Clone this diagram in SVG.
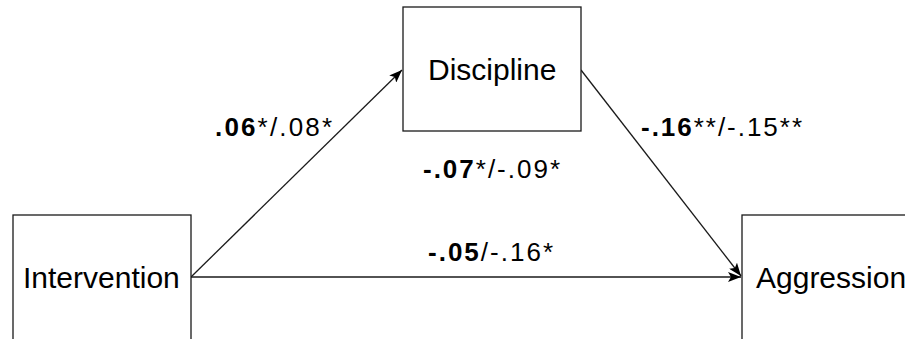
<svg xmlns="http://www.w3.org/2000/svg" width="905" height="339" viewBox="0 0 905 339">
  <style>
    .box { fill: #ffffff; stroke: #1a1a1a; stroke-width: 1.3; }
    .node-label { font-family: "Liberation Sans", Arial, sans-serif; font-size: 30px; fill: #000; }
    .edge { stroke: #1a1a1a; stroke-width: 1.3; fill: none; marker-end: url(#arrow); }
    .coef { font-family: "Liberation Sans", Arial, sans-serif; font-size: 26px; fill: #000; }
    .b { font-weight: bold; }
  </style>
  <defs>
    <marker id="arrow" markerUnits="userSpaceOnUse" markerWidth="14" markerHeight="10" refX="13" refY="5" orient="auto">
      <path d="M0,0 L13,5 L0,10 L3,5 Z" fill="#000"/>
    </marker>
  </defs>
  <rect width="905" height="339" fill="#ffffff"/>

  <g id="connectors">
    <line class="edge" x1="191" y1="277" x2="402" y2="70"/>
    <line class="edge" x1="191" y1="277" x2="741" y2="277"/>
    <line class="edge" x1="581" y1="70" x2="741" y2="276"/>
  </g>

  <g id="node-intervention">
    <rect class="box" x="13" y="215" width="178" height="140"/>
    <text class="node-label" x="23" y="288">Intervention</text>
  </g>

  <g id="node-discipline">
    <rect class="box" x="403" y="7" width="178" height="124"/>
    <text class="node-label" x="428" y="80">Discipline</text>
  </g>

  <g id="node-aggression">
    <rect class="box" x="742" y="215" width="200" height="140"/>
    <text class="node-label" x="756" y="288">Aggression</text>
  </g>

  <g id="labels">
    <text class="coef" x="215" y="136" textLength="117" lengthAdjust="spacing"><tspan class="b">.06</tspan>*/.08*</text>
    <text class="coef" x="423" y="178" textLength="137" lengthAdjust="spacing"><tspan class="b">-.07</tspan>*/-.09*</text>
    <text class="coef" x="428" y="261" textLength="125" lengthAdjust="spacing"><tspan class="b">-.05</tspan>/-.16*</text>
    <text class="coef" x="641" y="136" textLength="161" lengthAdjust="spacing"><tspan class="b">-.16</tspan>**/-.15**</text>
  </g>
</svg>
